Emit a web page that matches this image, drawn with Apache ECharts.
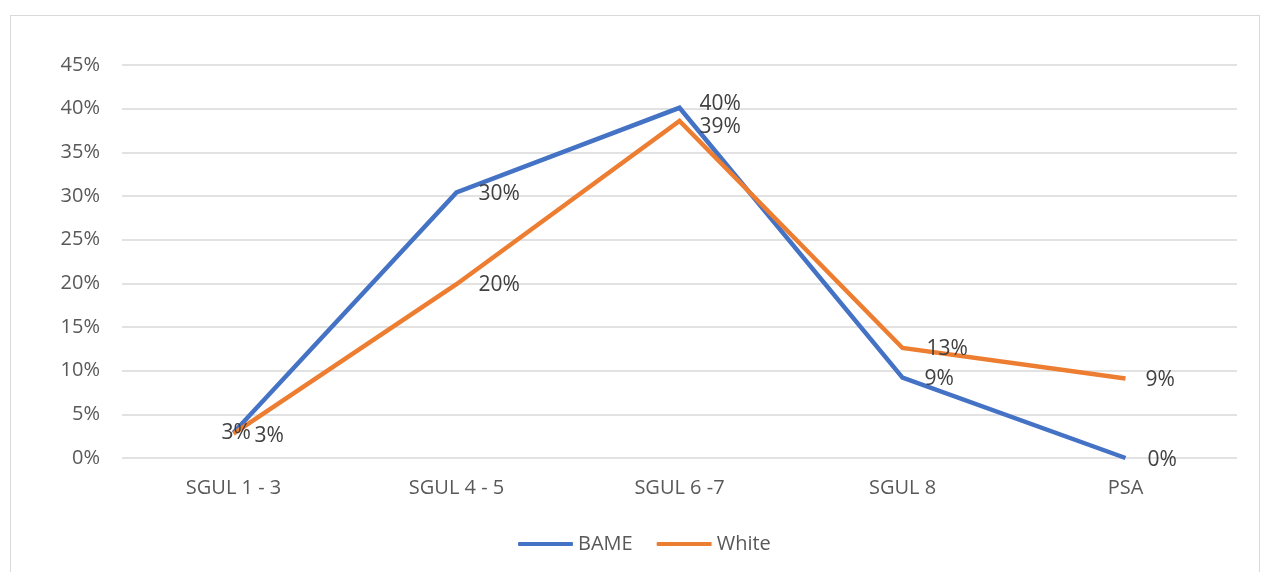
<!DOCTYPE html>
<html>
<head>
<meta charset="utf-8">
<script src="https://cdn.jsdelivr.net/npm/echarts@6/dist/echarts.min.js"></script>
<style>
  html, body { margin: 0; padding: 0; background: #fff; }
  #chart { width: 1263px; height: 572px; }
  #frame { position: absolute; left: 10px; top: 15px; width: 1250px; height: 570px; border: 1px solid #d9d9d9; box-sizing: border-box; pointer-events: none; }
</style>
</head>
<body>
<div id="chart"></div>
<div id="frame"></div>
<script>
  // data
  let categories = ['SGUL 1 - 3', 'SGUL 4 - 5', 'SGUL 6 -7', 'SGUL 8', 'PSA']
  let bame = [0.029, 0.304, 0.401, 0.092, 0.0]
  let white = [0.028, 0.199, 0.386, 0.126, 0.091]
  let yTicks = [0, 0.05, 0.10, 0.15, 0.20, 0.25, 0.30, 0.35, 0.40, 0.45]

  // small nudges of data labels so they sit like the original
  let bameLabelOffset = [[-32, 0], [2, 2], [0, -4], [2, 1], [2, 2]]
  let whiteLabelOffset = [[1, 2], [2, 1], [0, 6], [4, 1], [0, 1]]

  let pct = v => Math.round(v * 100) + '%'
  let textColor = '#595959'
  let font = 'Open Sans, Liberation Sans, sans-serif'

  let chart = echarts.init(document.getElementById('chart'))
  chart.setOption({
    animation: false,
    textStyle: { fontFamily: font },
    grid: { left: 122, right: 26, top: 65, bottom: 114 },
    legend: {
      bottom: 13,
      left: 513,
      itemWidth: 55,
      itemHeight: 4,
      itemGap: 24,
      icon: 'roundRect',
      textStyle: { color: textColor, fontSize: 20, fontFamily: font },
      data: ['BAME', 'White']
    },
    xAxis: {
      type: 'category',
      data: categories,
      boundaryGap: true,
      axisLine: { show: false },
      axisTick: { show: false },
      axisLabel: { color: textColor, fontSize: 20, margin: 20 }
    },
    yAxis: {
      type: 'value',
      min: yTicks[0],
      max: yTicks[yTicks.length - 1],
      interval: 0.05,
      axisLine: { show: false },
      axisTick: { show: false },
      splitLine: { lineStyle: { color: '#d9d9d9', width: 1.5 } },
      axisLabel: { color: textColor, fontSize: 20, margin: 22, formatter: v => pct(v) }
    },
    series: [
      {
        name: 'BAME',
        type: 'line',
        data: bame.map((v, i) => ({ value: v, label: { offset: bameLabelOffset[i] } })),
        symbol: 'circle',
        symbolSize: 0.1,
        lineStyle: { color: '#4472C4', width: 4.5, join: 'miter' },
        itemStyle: { color: '#4472C4' },
        label: {
          show: true, position: 'right', distance: 20,
          color: '#404040', fontSize: 21,
          formatter: p => pct(p.value)
        }
      },
      {
        name: 'White',
        type: 'line',
        data: white.map((v, i) => ({ value: v, label: { offset: whiteLabelOffset[i] } })),
        symbol: 'circle',
        symbolSize: 0.1,
        lineStyle: { color: '#ED7D31', width: 4.5, join: 'miter' },
        itemStyle: { color: '#ED7D31' },
        label: {
          show: true, position: 'right', distance: 20,
          color: '#404040', fontSize: 21,
          formatter: p => pct(p.value)
        }
      }
    ]
  })
</script>
</body>
</html>
